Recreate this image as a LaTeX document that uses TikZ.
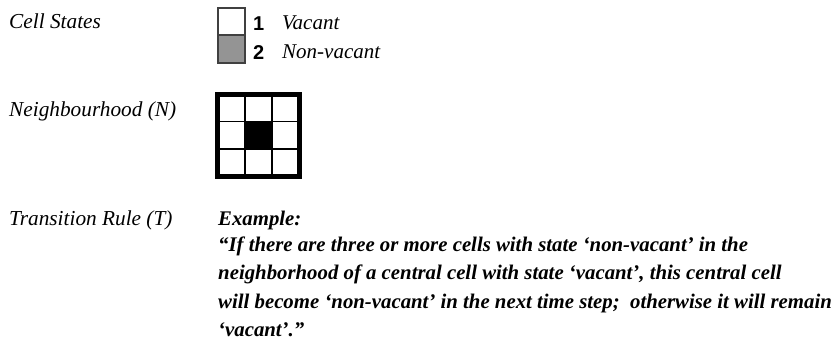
\documentclass[tikz,border=0pt]{standalone}
\usepackage{fontspec}
\setmainfont{Liberation Serif}
\setsansfont{Liberation Sans}
\begin{document}
\begin{tikzpicture}[x=1pt,y=-1pt,
  label/.style={anchor=base west,inner sep=0pt,font=\fontsize{21.3}{24}\selectfont\itshape},
  statelabel/.style={anchor=base west,inner sep=0pt,font=\fontsize{21}{24}\selectfont\itshape},
  statenum/.style={anchor=base west,inner sep=0pt,font=\sffamily\bfseries\fontsize{20}{22}\selectfont},
  ruletext/.style={anchor=base west,inner sep=0pt,font=\fontsize{20.8}{24}\selectfont\bfseries\itshape},
  statebox/.style={draw=black!75,line width=1.6pt},
  gridline/.style={line width=1.6pt},
  gridframe/.style={line width=4.5pt}]
\useasboundingbox (0,0) rectangle (832,343);

% row labels
\node[label] (lstates) at (9,28) {Cell States};
\node[label] (lneigh) at (9,116) {Neighbourhood (N)};
\node[label] (lrule) at (9,225) {Transition Rule (T)};

% cell state legend
\draw[statebox,fill=white] (218,8) rectangle (245,35);
\draw[statebox,fill=black!42] (218,35) rectangle (245,63);
\node[statenum] (n1) at (253,30) {1};
\node[statelabel] (s1) at (282,29) {Vacant};
\node[statenum] (n2) at (253,59) {2};
\node[statelabel] (s2) at (282,58) {Non-vacant};

% 3x3 neighbourhood
\fill[black] (244.8,121.3) rectangle (272.2,148.7);
\foreach \k in {244.8,272.2} {
  \draw[gridline] (\k,94.5) -- (\k,176.5);
  \draw[gridline] (217.5,\k-150.5+27) -- (299.5,\k-150.5+27);
}
\draw[gridframe] (217.5,94.5) rectangle (299.5,176.5);

% transition rule example
\node[ruletext] (ex) at (218,225) {Example:};
\node[ruletext] (r1) at (218,251) {“If there are three or more cells with state ‘non-vacant’ in the};
\node[ruletext] (r2) at (218,279) {neighborhood of a central cell with state ‘vacant’, this central cell};
\node[ruletext] (r3) at (218,308) {will become ‘non-vacant’ in the next time step;\ \ otherwise it will remain};
\node[ruletext] (r4) at (218,336) {‘vacant’.”};
\end{tikzpicture}
\end{document}
